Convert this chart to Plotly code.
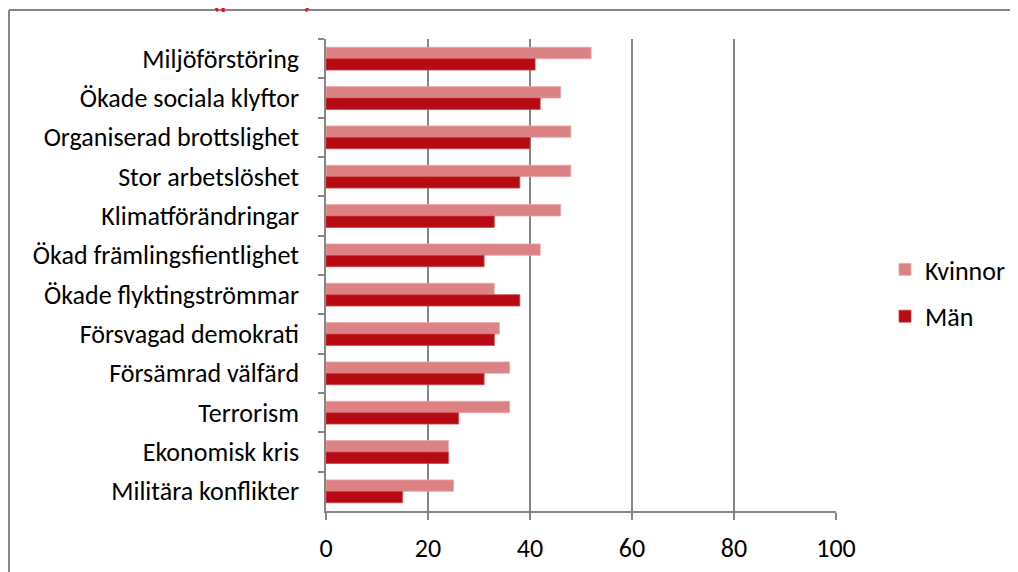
import plotly.graph_objects as go

categories = ["Miljöförstöring", "Ökade sociala klyftor", "Organiserad brottslighet",
              "Stor arbetslöshet", "Klimatförändringar", "Ökad främlingsfientlighet",
              "Ökade flyktingströmmar", "Försvagad demokrati", "Försämrad välfärd",
              "Terrorism", "Ekonomisk kris", "Militära konflikter"]
kvinnor = [52, 46, 48, 48, 46, 42, 33, 34, 36, 36, 24, 25]
man = [41, 42, 40, 38, 33, 31, 38, 33, 31, 26, 24, 15]
x_ticks = [0, 20, 40, 60, 80, 100]

# page has an 8px body margin; figure is sized to fit the window
OFF = 8
W, H = 1018 - OFF, 572 - OFF
# plot area in window pixels: x 326..836, y 39..511
L, R, T, B = 326 - OFF, 1018 - 836, 39 - OFF, 572 - 511
pw, ph = W - L - R, H - T - B

def px_x(p):
    return (p - OFF - L) / pw

def px_y(p):
    return (H - B - (p - OFF)) / ph

FONT = "Calibri, Carlito, Lato, sans-serif"
FS = 26
GRID = "#868686"

fig = go.Figure()
fig.add_trace(go.Bar(y=categories, x=kvinnor, name="Kvinnor", orientation="h",
                     legendgroup="k",
                     marker=dict(color="#DC8284", line=dict(color="#E8A9AA", width=0.8))))
fig.add_trace(go.Bar(y=categories, x=man, name="Män", orientation="h",
                     legendgroup="m",
                     marker=dict(color="#B70A12", line=dict(color="#C9474D", width=0.8))))

fig.update_layout(
    width=W, height=H,
    margin=dict(l=L, r=R, t=T, b=B, autoexpand=False),
    paper_bgcolor="white", plot_bgcolor="white",
    barmode="group", bargap=0.42, bargroupgap=0,
    font=dict(family=FONT, size=FS, color="black"),
    showlegend=True,
    legend=dict(x=px_x(885), y=px_y(293), xanchor="left", yanchor="middle",
                font=dict(size=FS), traceorder="grouped", tracegroupgap=10,
                itemwidth=30, bgcolor="rgba(0,0,0,0)"),
    xaxis=dict(range=[0, 100], tickvals=x_ticks, showgrid=True, gridcolor=GRID,
               gridwidth=1.5, showline=True, linecolor=GRID, linewidth=1.5,
               ticks="outside", ticklen=7, tickcolor=GRID, tickwidth=1.5,
               ticklabelstandoff=6, zeroline=False, fixedrange=True),
    yaxis=dict(autorange="reversed", type="category", showline=True, linecolor=GRID,
               linewidth=1.5, ticks="outside", tickson="boundaries", ticklen=6,
               tickcolor=GRID, tickwidth=1.5, showgrid=False, ticklabelstandoff=20,
               fixedrange=True),
    shapes=[
        dict(type="line", xref="paper", yref="paper", x0=px_x(9), x1=px_x(1040),
             y0=px_y(10), y1=px_y(10), line=dict(color=GRID, width=2)),
        dict(type="line", xref="paper", yref="paper", x0=px_x(9), x1=px_x(9),
             y0=px_y(10), y1=px_y(600), line=dict(color=GRID, width=2)),
    ],
    annotations=[
        dict(text="<b>(procent)</b>", xref="paper", yref="paper", x=px_x(262), y=px_y(17),
             xanchor="center", yanchor="bottom", showarrow=False,
             font=dict(family=FONT, size=26, color="#E0161E"))
    ],
)

fig.write_html("out.html")
